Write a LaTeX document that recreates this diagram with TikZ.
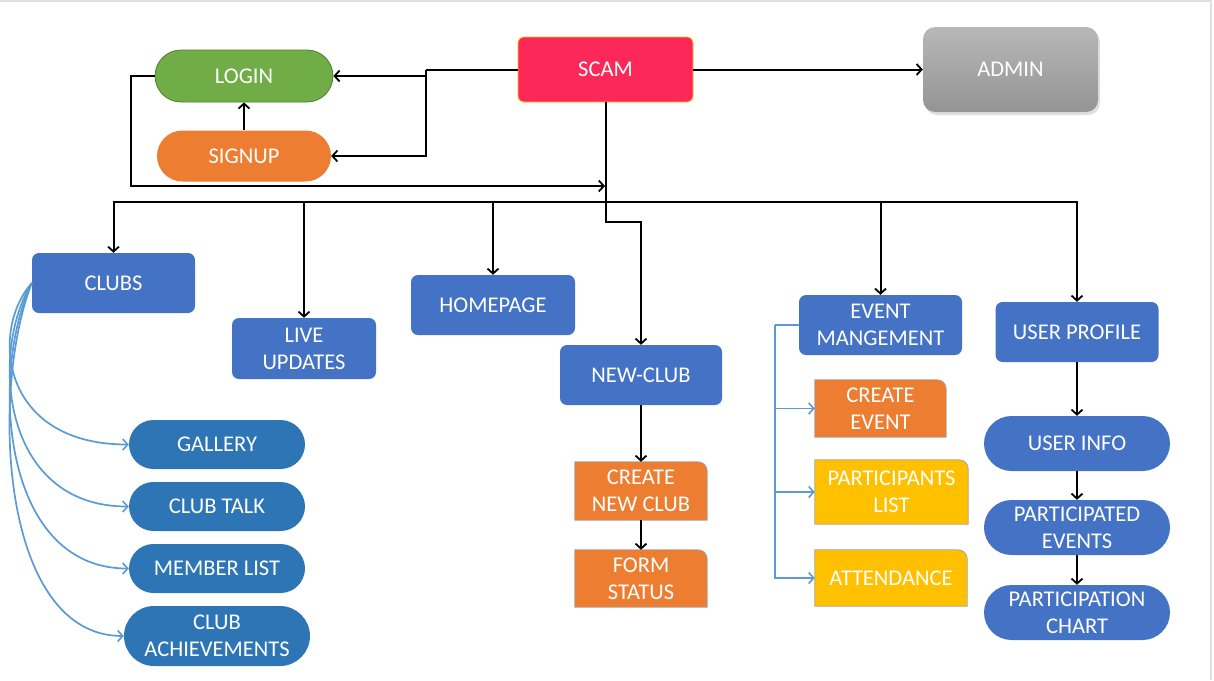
\documentclass[tikz,border=0pt]{standalone}
\usepackage{fontspec}
\setmainfont{Carlito}
\usetikzlibrary{arrows.meta,shapes.misc,backgrounds,shadows,calc}
\definecolor{cblue}{HTML}{4472C4}
\definecolor{cblue2}{HTML}{2E75B6}
\definecolor{cline}{HTML}{5B9BD5}
\definecolor{cgreen}{HTML}{70AD47}
\definecolor{cgreenb}{HTML}{507E32}
\definecolor{corange}{HTML}{ED7D31}
\definecolor{cyellow}{HTML}{FFC000}
\definecolor{cscam}{HTML}{FC2859}
\definecolor{cgrayb}{HTML}{A5A5A5}
\tikzset{
  base/.style={text=white, align=center, inner sep=0pt,
    font=\fontsize{22.5}{27}\selectfont},
  bbox/.style={base, fill=cblue, rounded corners=7pt},
  pill/.style={base, rounded rectangle, fill=#1},
  conn/.style={draw=black, line width=2pt, -{Straight Barb[length=5pt,width=11pt,line width=1.8pt]}},
  plain/.style={draw=black, line width=2pt},
  bconn/.style={draw=cline, line width=1.7pt, -{Straight Barb[length=5pt,width=11pt,line width=1.6pt]}},
  bplain/.style={draw=cline, line width=1.7pt},
}
\newcommand\tabnode[6]{%
  \node[base, minimum width=#3, minimum height=#4] (#1) at #2 {#6};
  \begin{scope}[on background layer]
    \filldraw[fill=#5, draw=cgrayb, line width=0.8pt] (#1.south west) -- (#1.north west)
      -- ([xshift=-9pt]#1.north east) arc[start angle=90, end angle=0, radius=9pt]
      -- (#1.south east) -- cycle;
  \end{scope}}
\begin{document}
\begin{tikzpicture}[x=1pt, y=-1pt]
\useasboundingbox (0,0) rectangle (1214,680);
\draw[black!12, line width=1.5pt] (0,1) -- (1211,1) -- (1211,680);

% top row
\node[pill=cgreen, draw=cgreenb, line width=0.8pt, minimum width=178, minimum height=52] (login) at (244,76) {LOGIN};
\node[pill=corange, minimum width=174, minimum height=51] (signup) at (244,156) {SIGNUP};
\node[base, fill=cscam, draw=cyellow, line width=0.8pt, rounded corners=6pt, minimum width=175, minimum height=65] (scam) at (605.5,69.5) {SCAM};
\node[base, top color=black!28, bottom color=black!42, rounded corners=12pt,
  drop shadow={opacity=0.25, shadow xshift=2pt, shadow yshift=-3pt},
  minimum width=175, minimum height=85] (admin) at (1010.5,69.5) {ADMIN};

% second level
\node[bbox, minimum width=163, minimum height=60] (clubs) at (113.5,283) {CLUBS};
\node[bbox, minimum width=144, minimum height=61] (live) at (304,348.5) {LIVE\\UPDATES};
\node[bbox, minimum width=164, minimum height=60] (home) at (493,305) {HOMEPAGE};
\node[bbox, minimum width=162, minimum height=60] (newclub) at (641,375) {NEW-CLUB};
\node[bbox, minimum width=163, minimum height=60] (event) at (880.5,325) {EVENT\\MANGEMENT};
\node[bbox, minimum width=163, minimum height=60] (profile) at (1077,332) {USER PROFILE};

% clubs children
\node[pill=cblue2, minimum width=176, minimum height=49] (gallery) at (217,444.5) {GALLERY};
\node[pill=cblue2, minimum width=176, minimum height=49] (talk) at (217,506.5) {CLUB TALK};
\node[pill=cblue2, minimum width=176, minimum height=49] (member) at (217,568.5) {MEMBER LIST};
\node[pill=cblue2, minimum width=186, minimum height=60] (achieve) at (217,636) {CLUB\\ACHIEVEMENTS};

% new club children
\tabnode{createclub}{(641,491)}{132}{58}{corange}{CREATE\\NEW CLUB}
\tabnode{form}{(641,578.5)}{132}{57}{corange}{FORM\\STATUS}

% event children
\tabnode{createev}{(880.5,408.5)}{131}{57}{corange}{CREATE\\EVENT}
\tabnode{plist}{(891.5,492)}{153}{64}{cyellow}{PARTICIPANTS\\LIST}
\tabnode{attend}{(891,578)}{152}{56}{cyellow}{ATTENDANCE}

% profile children
\node[pill=cblue, minimum width=186, minimum height=55] (uinfo) at (1077,443.5) {USER INFO};
\node[pill=cblue, minimum width=186, minimum height=55] (pevents) at (1077,527.5) {PARTICIPATED\\EVENTS};
\node[pill=cblue, minimum width=186, minimum height=55] (pchart) at (1077,612.5) {PARTICIPATION\\CHART};

% coordinates
\coordinate (j) at (426,69.5);
\coordinate (loopend) at (605,186);
\coordinate (bus) at (605,202);

% top connectors
\draw[plain] (scam.west) -- (j);
\draw[conn] (j) |- (login.east);
\draw[conn] (j) |- (signup.east);
\draw[conn] (signup.north) -- (login.south);
\draw[conn] (scam.east) -- (admin.west);
\draw[conn] (login.west) -- ++(-24,0) |- (loopend);

% bus
\draw[conn] (scam.south) -- ++(0,120) -| (newclub.north);
\draw[conn] (bus) -| (clubs.north);
\draw[conn] (bus) -| (live.north);
\draw[conn] (bus) -| (home.north);
\draw[conn] (bus) -| (event.north);
\draw[conn] (bus) -| (profile.north);

% vertical chains
\draw[conn] (newclub.south) -- (createclub.north);
\draw[conn] (createclub.south) -- (form.north);
\draw[conn] (profile.south) -- (uinfo.north);
\draw[conn] (uinfo.south) -- (pevents.north);
\draw[conn] (pevents.south) -- (pchart.north);

% event management branch
\coordinate (ev) at (775,325);
\draw[bplain] (event.west) -- (ev);
\draw[bconn] (ev) |- (createev.west);
\draw[bconn] (ev) |- (plist.west);
\draw[bconn] (ev) |- (attend.west);

% clubs curves
\draw[bconn] (clubs.west) .. controls (-10,330) and (0,444.5) .. (gallery.west);
\draw[bconn] (clubs.west) .. controls (-10,350) and (0,506.5) .. (talk.west);
\draw[bconn] (clubs.west) .. controls (-10,370) and (0,568.5) .. (member.west);
\draw[bconn] (clubs.west) .. controls (-10,390) and (0,636) .. (achieve.west);
\end{tikzpicture}
\end{document}
